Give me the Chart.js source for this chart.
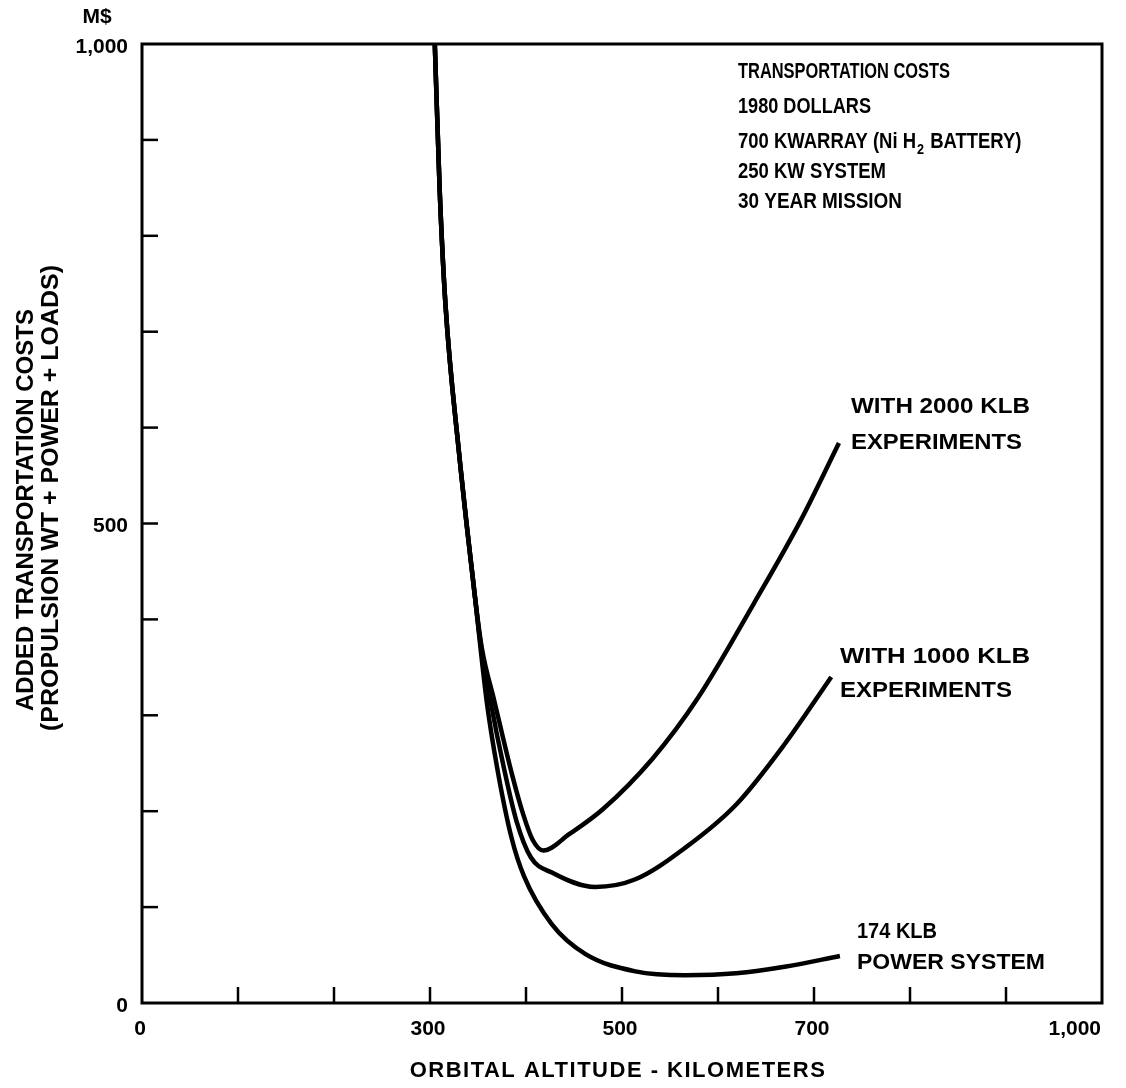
<!DOCTYPE html>
<html>
<head>
<meta charset="utf-8">
<script src="https://cdn.jsdelivr.net/npm/chart.js@4.4.1/dist/chart.umd.min.js"></script>
<style>
body { margin: 0; background: #fff; }
#wrap { width: 1126px; height: 1088px; }
</style>
</head>
<body>
<div id="wrap"><canvas id="myChart" width="1126" height="1088"></canvas></div>
<script>
// altitude (km) and added cost (M$)
let powerX = [305, 310, 316, 330, 347, 359, 370, 385, 398, 427, 462, 514, 566, 619, 671, 727];
let powerY = [1000, 850, 730, 576, 422, 315, 245, 172, 132, 82, 51, 33, 29, 31, 38, 49];

let exp1000X = [305, 310, 316, 330, 347, 352, 363, 377, 390, 405, 427, 472, 514, 566, 619, 668, 718];
let exp1000Y = [1000, 850, 730, 576, 422, 380, 315, 245, 190, 152, 136, 121, 129, 162, 207, 268, 340];

let exp2000X = [305, 310, 316, 330, 347, 354, 367, 385, 397, 407, 418, 445, 480, 532, 579, 637, 686, 726];
let exp2000Y = [1000, 850, 730, 576, 422, 370, 315, 240, 197, 170, 159, 176, 202, 255, 318, 416, 503, 584];

let xLabelValues = [0, 300, 500, 700, 1000];
let xLabelText = ['0', '300', '500', '700', '1,000'];
let yLabelValues = [0, 500, 1000];
let yLabelText = ['0', '500', '1,000'];

let noteLines = ['TRANSPORTATION COSTS', '1980 DOLLARS', '700 KWARRAY (Ni H', '250 KW SYSTEM', '30 YEAR MISSION'];

function toPoints(xs, ys) {
    let pts = [];
    for (let i = 0; i < xs.length; i++) {
        pts.push({ x: xs[i], y: ys[i] });
    }
    return pts;
}

function curve(label, xs, ys) {
    return {
        label: label,
        data: toPoints(xs, ys),
        showLine: true,
        borderColor: '#000',
        borderWidth: 4.5,
        pointRadius: 0,
        cubicInterpolationMode: 'monotone',
        fill: false
    };
}

const FONT = '"Liberation Sans", Arial, sans-serif';

function text(ctx, s, x, y, size, align, sx) {
    ctx.save();
    ctx.font = 'bold ' + size + 'px ' + FONT;
    ctx.textAlign = align || 'left';
    ctx.textBaseline = 'middle';
    ctx.translate(x, y);
    ctx.scale(sx || 1, 1);
    ctx.fillText(s, 0, 0);
    ctx.restore();
}

// draw text squeezed/stretched to a given width
function fitText(ctx, s, x, y, size, width, align) {
    ctx.save();
    ctx.font = 'bold ' + size + 'px ' + FONT;
    let sx = width / ctx.measureText(s).width;
    ctx.restore();
    text(ctx, s, x, y, size, align, sx);
    return sx;
}

const framePlugin = {
    id: 'frame',
    afterDraw(chart) {
        let ctx = chart.ctx;
        let a = chart.chartArea;
        let xs = chart.scales.x;
        let ys = chart.scales.y;
        ctx.save();
        ctx.strokeStyle = '#000';
        ctx.fillStyle = '#000';

        // box
        ctx.lineWidth = 3;
        ctx.strokeRect(a.left, a.top, a.right - a.left, a.bottom - a.top);

        // inner tick marks
        ctx.lineWidth = 2.5;
        xs.ticks.forEach(t => {
            if (t.value <= 0 || t.value >= 1000) return;
            let px = xs.getPixelForValue(t.value);
            ctx.beginPath();
            ctx.moveTo(px, a.bottom);
            ctx.lineTo(px, a.bottom - 16);
            ctx.stroke();
        });
        ys.ticks.forEach(t => {
            if (t.value <= 0 || t.value >= 1000) return;
            let py = ys.getPixelForValue(t.value);
            ctx.beginPath();
            ctx.moveTo(a.left, py);
            ctx.lineTo(a.left + 16, py);
            ctx.stroke();
        });

        // tick labels
        xLabelValues.forEach((v, i) => {
            let px = xs.getPixelForValue(v);
            if (v === 1000) text(ctx, xLabelText[i], px - 1, a.bottom + 26, 21, 'right');
            else text(ctx, xLabelText[i], px - 2, a.bottom + 26, 21, 'center');
        });
        yLabelValues.forEach((v, i) => {
            let py = ys.getPixelForValue(v);
            text(ctx, yLabelText[i], a.left - 14, py + 3, 21, 'right');
        });
        text(ctx, 'M$', 97, 17, 21, 'center');

        // axis titles
        ctx.save();
        ctx.font = 'bold 22px ' + FONT;
        ctx.letterSpacing = '1.5px';
        ctx.textAlign = 'center';
        ctx.textBaseline = 'middle';
        ctx.fillText('ORBITAL ALTITUDE - KILOMETERS', 618, 1071);
        ctx.restore();

        ctx.save();
        ctx.translate(26, 510);
        ctx.rotate(-Math.PI / 2);
        fitText(ctx, 'ADDED TRANSPORTATION COSTS', 0, 0, 24, 402, 'center');
        ctx.restore();
        ctx.save();
        ctx.translate(51, 498);
        ctx.rotate(-Math.PI / 2);
        fitText(ctx, '(PROPULSION WT + POWER + LOADS)', 0, 0, 24, 466, 'center');
        ctx.restore();

        // notes block
        let nx = 738;
        let ny = [72, 107, 142, 172, 202];
        let nw = [212, 133, 0, 148, 164];
        noteLines.forEach((s, i) => {
            if (i !== 2) fitText(ctx, s, nx, ny[i], 22, nw[i], 'left');
        });
        let sx = 0.84;
        text(ctx, noteLines[2], nx, ny[2], 22, 'left', sx);
        ctx.font = 'bold 22px ' + FONT;
        let w = ctx.measureText(noteLines[2]).width * sx;
        text(ctx, '2', nx + w + 1, ny[2] + 8, 15, 'left', sx);
        text(ctx, ' BATTERY)', nx + w + 9, ny[2], 22, 'left', sx);

        // curve labels
        fitText(ctx, 'WITH 2000 KLB', 851, 407, 22, 179, 'left');
        fitText(ctx, 'EXPERIMENTS', 851, 443, 22, 171, 'left');
        fitText(ctx, 'WITH 1000 KLB', 840, 657, 22, 190, 'left');
        fitText(ctx, 'EXPERIMENTS', 840, 691, 22, 172, 'left');
        fitText(ctx, '174 KLB', 857, 932, 22, 80, 'left');
        fitText(ctx, 'POWER SYSTEM', 857, 963, 22, 188, 'left');

        ctx.restore();
    }
};

var ctx = document.getElementById('myChart').getContext('2d');
var chart = new Chart(ctx, {
    type: 'scatter',
    data: {
        datasets: [
            curve('174 KLB power system', powerX, powerY),
            curve('with 1000 KLB experiments', exp1000X, exp1000Y),
            curve('with 2000 KLB experiments', exp2000X, exp2000Y)
        ]
    },
    options: {
        responsive: false,
        animation: false,
        layout: { padding: { top: 44, right: 24, left: 0, bottom: 0 } },
        plugins: {
            legend: { display: false },
            tooltip: { enabled: false }
        },
        scales: {
            x: {
                type: 'linear',
                min: 0,
                max: 1000,
                ticks: { stepSize: 100, display: false },
                grid: { display: false },
                border: { display: false },
                afterFit: s => { s.height = 85; }
            },
            y: {
                type: 'linear',
                min: 0,
                max: 1000,
                ticks: { stepSize: 100, display: false },
                grid: { display: false },
                border: { display: false },
                afterFit: s => { s.width = 142; }
            }
        }
    },
    plugins: [framePlugin]
});
</script>
</body>
</html>
